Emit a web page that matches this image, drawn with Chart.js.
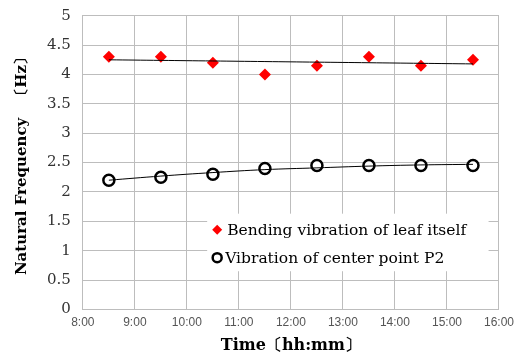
<!DOCTYPE html>
<html>
<head>
<meta charset="utf-8">
<script src="https://cdn.jsdelivr.net/npm/chart.js@4"></script>
<style>
  body { margin: 0; background: #fff; }
  #wrap { width: 520px; height: 357px; }
</style>
</head>
<body>
<div id="wrap"><canvas id="myChart"></canvas></div>
<script>
const times = [8.5, 9.5, 10.5, 11.5, 12.5, 13.5, 14.5, 15.5]
const bending = [4.3, 4.3, 4.2, 4.0, 4.15, 4.3, 4.15, 4.25]
const centerP2 = [2.2, 2.25, 2.3, 2.4, 2.45, 2.45, 2.45, 2.45]
// trend lines
const bendingTrend = [4.25, 4.24, 4.23, 4.22, 4.21, 4.2, 4.19, 4.18]
const centerTrend = [2.2, 2.27, 2.33, 2.38, 2.41, 2.44, 2.46, 2.47]
const labels = ["Bending vibration of leaf itself", "Vibration of center point P2"]

const serif = '"DejaVu Serif", "Liberation Serif", serif'

function pts(ys) {
    return times.map((t, i) => ({x: t, y: ys[i]}))
}

// legend drawn inside the plot area, like the original
const innerLegend = {
    id: 'innerLegend',
    afterDatasetsDraw(chart) {
        const ctx = chart.ctx
        const xs = chart.scales.x, ys = chart.scales.y
        const left = xs.getPixelForValue(10.39), right = xs.getPixelForValue(15.8)
        const top = ys.getPixelForValue(1.63), bottom = ys.getPixelForValue(0.65)
        ctx.save()
        ctx.fillStyle = '#fff'
        ctx.fillRect(left, top, right - left, bottom - top)
        ctx.font = '15.5px ' + serif
        ctx.textBaseline = 'middle'
        const rowY = [top + 16, top + 44]
        let mx = left + 10
        // diamond
        ctx.fillStyle = '#ff0000'
        ctx.beginPath()
        ctx.moveTo(mx, rowY[0] - 5)
        ctx.lineTo(mx + 5, rowY[0])
        ctx.lineTo(mx, rowY[0] + 5)
        ctx.lineTo(mx - 5, rowY[0])
        ctx.closePath()
        ctx.fill()
        // circle
        ctx.strokeStyle = '#000'
        ctx.lineWidth = 2.5
        ctx.beginPath()
        ctx.arc(mx, rowY[1], 4.5, 0, Math.PI * 2)
        ctx.stroke()
        ctx.fillStyle = '#000'
        ctx.fillText(labels[0], mx + 10, rowY[0] + 1)
        ctx.fillText(labels[1], mx + 8, rowY[1] + 1)
        ctx.restore()
    }
}

const ctx = document.getElementById('myChart').getContext('2d')
const myChart = new Chart(ctx, {
    type: 'scatter',
    data: {
        datasets: [
            {
                label: 'bending trend',
                type: 'line',
                data: pts(bendingTrend),
                borderColor: '#000',
                borderWidth: 1,
                pointRadius: 0,
                tension: 0.4
            },
            {
                label: 'center trend',
                type: 'line',
                data: pts(centerTrend),
                borderColor: '#000',
                borderWidth: 1,
                pointRadius: 0,
                tension: 0.4
            },
            {
                label: labels[0],
                data: pts(bending),
                pointStyle: 'rectRot',
                pointRadius: 6,
                backgroundColor: '#ff0000',
                borderColor: '#ff0000',
                borderWidth: 0
            },
            {
                label: labels[1],
                data: pts(centerP2),
                pointStyle: 'circle',
                pointRadius: 5.5,
                backgroundColor: '#fff',
                borderColor: '#000',
                borderWidth: 2.5
            }
        ]
    },
    options: {
        responsive: true,
        maintainAspectRatio: false,
        animation: false,
        layout: {autoPadding: false, padding: {top: 13, right: 17, left: 9, bottom: 2}},
        plugins: {
            legend: {display: false},
            tooltip: {enabled: false}
        },
        scales: {
            x: {
                type: 'linear',
                min: 8,
                max: 16,
                ticks: {
                    stepSize: 1,
                    color: '#555',
                    font: {family: '"Liberation Sans", Arial, sans-serif', size: 12},
                    callback: v => v + ':00',
                    maxRotation: 0,
                    padding: 6
                },
                grid: {color: '#bdbdbd', drawTicks: false},
                border: {color: '#bdbdbd'},
                title: {
                    display: true,
                    text: 'Time〔hh:mm〕',
                    color: '#000',
                    font: {family: serif, size: 16, weight: 'bold'},
                    padding: {top: 0, bottom: 0}
                }
            },
            y: {
                min: 0,
                max: 5,
                ticks: {
                    stepSize: 0.5,
                    color: '#333',
                    font: {family: serif, size: 15, lineHeight: 0.5},
                    callback: v => String(v),
                    padding: 12
                },
                grid: {color: '#bdbdbd', drawTicks: false},
                border: {color: '#bdbdbd'},
                title: {
                    display: true,
                    text: 'Natural Frequency　〔Hz〕',
                    color: '#000',
                    font: {family: serif, size: 15, weight: 'bold'},
                    padding: {bottom: 4}
                }
            }
        }
    },
    plugins: [innerLegend]
})
</script>
</body>
</html>
